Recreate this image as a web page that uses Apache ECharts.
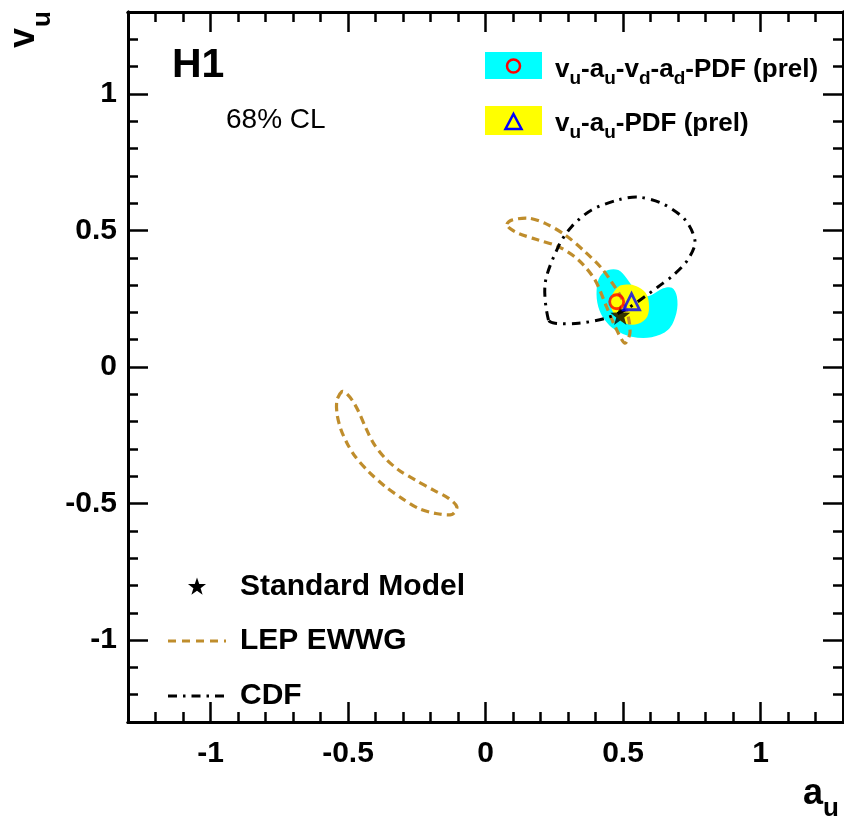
<!DOCTYPE html>
<html>
<head>
<meta charset="utf-8">
<script src="https://cdn.jsdelivr.net/npm/echarts@6/dist/echarts.min.js"></script>
<style>html,body{margin:0;padding:0;background:#fff;}#c{width:844px;height:818px;}</style>
</head>
<body>
<div id="c"></div>
<script>
// ---- data ----
const xMajorTicks = [-1, -0.5, 0, 0.5, 1];
const yMajorTicks = [-1, -0.5, 0, 0.5, 1];

// vu-au-vd-ad-PDF (prel) 68% CL region (cyan)
const cyanRegion = [[0.446,0.355],[0.416,0.331],[0.404,0.282],[0.410,0.221],[0.434,0.172],[0.471,0.136],[0.531,0.111],[0.604,0.109],[0.664,0.136],[0.694,0.197],[0.696,0.258],[0.678,0.290],[0.646,0.288],[0.604,0.264],[0.567,0.258],[0.543,0.282],[0.513,0.325],[0.483,0.355]];
// vu-au-PDF (prel) 68% CL region (yellow)
const yellowRegion = [[0.483,0.294],[0.458,0.258],[0.456,0.221],[0.477,0.182],[0.513,0.158],[0.555,0.158],[0.588,0.184],[0.594,0.233],[0.582,0.272],[0.549,0.296],[0.513,0.302]];
// LEP EWWG contours
const lepUpper = [[0.078,0.523],[0.095,0.538],[0.156,0.545],[0.217,0.526],[0.289,0.484],[0.362,0.422],[0.422,0.362],[0.458,0.312],[0.495,0.252],[0.519,0.184],[0.525,0.123],[0.507,0.087],[0.477,0.136],[0.440,0.221],[0.398,0.319],[0.338,0.392],[0.265,0.441],[0.192,0.465],[0.120,0.489],[0.088,0.508]];
const lepLower = [[-0.522,-0.090],[-0.540,-0.121],[-0.540,-0.170],[-0.527,-0.225],[-0.503,-0.280],[-0.473,-0.329],[-0.425,-0.383],[-0.364,-0.438],[-0.304,-0.481],[-0.243,-0.518],[-0.183,-0.536],[-0.122,-0.540],[-0.104,-0.512],[-0.134,-0.481],[-0.189,-0.451],[-0.255,-0.414],[-0.316,-0.377],[-0.364,-0.335],[-0.407,-0.280],[-0.437,-0.219],[-0.461,-0.164],[-0.485,-0.121],[-0.509,-0.094]];
// CDF contour
const cdfContour = [[0.229,0.172],[0.217,0.307],[0.265,0.441],[0.313,0.514],[0.386,0.575],[0.483,0.612],[0.555,0.622],[0.640,0.600],[0.725,0.540],[0.762,0.459],[0.735,0.392],[0.684,0.337],[0.628,0.294],[0.580,0.258],[0.507,0.209],[0.434,0.178],[0.338,0.160],[0.253,0.160]];
// fit central values and SM point
const fit4Point = [[0.477,0.239]];
const fit2Point = [[0.531,0.239]];
const smPoint = [[0.49,0.19]];

// ---- styles ----
const LEP_COLOR = '#bf8d2c';
const FONT = 'Liberation Sans, Arial, sans-serif';

function contourItem(points, style, smooth) {
  return function (params, api) {
    if (params.dataIndex !== 0) return null;
    return {
      type: 'polygon',
      shape: { points: points.map(p => api.coord(p)), smooth: smooth },
      style: style
    };
  };
}

function makeAxis(dim, pos, major, labels) {
  const ticks = dim === 'x' ? xMajorTicks : yMajorTicks;
  const ax = {
    type: 'value', min: -1.3, max: 1.3, position: pos, gridIndex: 0,
    axisLine: { show: true, onZero: false, lineStyle: { color: '#000', width: 3 } },
    axisTick: { show: true, inside: true, length: major ? 20 : 10, lineStyle: { color: '#000', width: 2.5 } },
    axisLabel: { show: false },
    splitLine: { show: false }
  };
  if (major) {
    ax.axisTick.customValues = ticks;
  } else {
    ax.interval = 0.1;
  }
  if (labels) {
    ax.axisLabel = {
      show: true, customValues: ticks, color: '#000', fontFamily: FONT,
      fontWeight: 'bold', fontSize: 30, margin: dim === 'x' ? 17 : 11
    };
  }
  return ax;
}

function starPoints(cx, cy, R, r) {
  const pts = [];
  for (let i = 0; i < 10; i++) {
    const a = -Math.PI / 2 + i * Math.PI / 5;
    const rad = i % 2 === 0 ? R : r;
    pts.push([cx + rad * Math.cos(a), cy + rad * Math.sin(a)]);
  }
  return pts;
}
const STAR_PATH = 'path://' + starPoints(0, 0, 10, 4).map((p, i) => (i ? 'L' : 'M') + p[0].toFixed(2) + ',' + p[1].toFixed(2)).join(' ') + 'Z';

const chart = echarts.init(document.getElementById('c'), null, { renderer: 'canvas' });

const option = {
  animation: false,
  backgroundColor: '#fff',
  grid: { left: 128, right: 1, top: 12, bottom: 96, containLabel: false },
  xAxis: [
    makeAxis('x', 'bottom', false, false),
    makeAxis('x', 'bottom', true, true),
    makeAxis('x', 'top', false, false),
    makeAxis('x', 'top', true, false)
  ],
  yAxis: [
    makeAxis('y', 'left', false, false),
    makeAxis('y', 'left', true, true),
    makeAxis('y', 'right', false, false),
    makeAxis('y', 'right', true, false)
  ],
  series: [
    { type: 'custom', name: 'cyan', data: cyanRegion, xAxisIndex: 0, yAxisIndex: 0, clip: false,
      renderItem: contourItem(cyanRegion, { fill: '#00ffff', stroke: null }, 0.35) },
    { type: 'custom', name: 'yellow', data: yellowRegion, xAxisIndex: 0, yAxisIndex: 0, clip: false,
      renderItem: contourItem(yellowRegion, { fill: '#ffff00', stroke: null }, 0.35) },
    { type: 'custom', name: 'LEP upper', data: lepUpper, xAxisIndex: 0, yAxisIndex: 0, clip: false,
      renderItem: contourItem(lepUpper, { fill: 'none', stroke: LEP_COLOR, lineWidth: 3.2, lineDash: [8, 5] }, 0.3) },
    { type: 'custom', name: 'LEP lower', data: lepLower, xAxisIndex: 0, yAxisIndex: 0, clip: false,
      renderItem: contourItem(lepLower, { fill: 'none', stroke: LEP_COLOR, lineWidth: 3.2, lineDash: [8, 5] }, 0.3) },
    { type: 'custom', name: 'CDF', data: cdfContour, xAxisIndex: 0, yAxisIndex: 0, clip: false,
      renderItem: contourItem(cdfContour, { fill: 'none', stroke: '#000', lineWidth: 3, lineDash: [9, 6, 2.5, 6] }, 0.3) },
    { type: 'scatter', data: smPoint, symbol: STAR_PATH, symbolSize: 20, xAxisIndex: 0, yAxisIndex: 0,
      itemStyle: { color: '#000' } },
    { type: 'scatter', data: fit4Point, symbol: 'circle', symbolSize: 14, xAxisIndex: 0, yAxisIndex: 0,
      itemStyle: { color: 'rgba(0,0,0,0)', borderColor: '#ff0000', borderWidth: 2.8 } },
    { type: 'scatter', data: fit2Point, symbol: 'triangle', symbolSize: [16, 16], xAxisIndex: 0, yAxisIndex: 0,
      itemStyle: { color: 'rgba(0,0,0,0)', borderColor: '#0000ff', borderWidth: 2.8 } }
  ],
  graphic: [
    // axis titles
    { type: 'text', x: 803, y: 794, z: 100, style: { text: 'a', font: 'bold 36px ' + FONT, fill: '#000', align: 'left', verticalAlign: 'middle' } },
    { type: 'text', x: 823, y: 809, z: 100, style: { text: 'u', font: 'bold 26px ' + FONT, fill: '#000', align: 'left', verticalAlign: 'middle' } },
    { type: 'text', x: 24, y: 38, rotation: Math.PI / 2, z: 100, style: { text: 'v', font: 'bold 36px ' + FONT, fill: '#000', align: 'center', verticalAlign: 'middle' } },
    { type: 'text', x: 43, y: 19, rotation: Math.PI / 2, z: 100, style: { text: 'u', font: 'bold 26px ' + FONT, fill: '#000', align: 'center', verticalAlign: 'middle' } },
    // H1 and CL
    { type: 'text', x: 172, y: 66, z: 100, style: { text: 'H1', font: 'bold 41px ' + FONT, fill: '#000', align: 'left', verticalAlign: 'middle' } },
    { type: 'text', x: 226, y: 120, z: 100, style: { text: '68% CL', font: '28px ' + FONT, fill: '#000', align: 'left', verticalAlign: 'middle' } },
    // top-right legend
    { type: 'rect', z: 100, shape: { x: 485, y: 52, width: 57, height: 27 }, style: { fill: '#00ffff' } },
    { type: 'circle', z: 101, shape: { cx: 513.5, cy: 66, r: 6.5 }, style: { fill: 'none', stroke: '#ff0000', lineWidth: 2.5 } },
    { type: 'rect', z: 100, shape: { x: 485, y: 106, width: 57, height: 29 }, style: { fill: '#ffff00' } },
    { type: 'polygon', z: 101, shape: { points: [[513.5, 114], [521.5, 129], [505.5, 129]] }, style: { fill: 'none', stroke: '#0000ff', lineWidth: 2.5 } },
    { type: 'text', x: 555, y: 56.5, z: 100, style: {
        text: '{m|v}{s|u}{m|-a}{s|u}{m|-v}{s|d}{m|-a}{s|d}{m|-PDF (prel)}',
        align: 'left', verticalAlign: 'top',
        rich: {
          m: { fontFamily: FONT, fontWeight: 'bold', fontSize: 26, lineHeight: 26, verticalAlign: 'top', fill: '#000', color: '#000' },
          s: { fontFamily: FONT, fontWeight: 'bold', fontSize: 19, lineHeight: 44, fill: '#000', color: '#000' }
        } } },
    { type: 'text', x: 555, y: 111, z: 100, style: {
        text: '{m|v}{s|u}{m|-a}{s|u}{m|-PDF (prel)}',
        align: 'left', verticalAlign: 'top',
        rich: {
          m: { fontFamily: FONT, fontWeight: 'bold', fontSize: 26, lineHeight: 26, verticalAlign: 'top', fill: '#000', color: '#000' },
          s: { fontFamily: FONT, fontWeight: 'bold', fontSize: 19, lineHeight: 44, fill: '#000', color: '#000' }
        } } },
    // bottom-left legend
    { type: 'polygon', z: 100, shape: { points: starPoints(197, 587, 9.5, 3.8) }, style: { fill: '#000' } },
    { type: 'text', x: 240, y: 587, z: 100, style: { text: 'Standard Model', font: 'bold 30px ' + FONT, fill: '#000', align: 'left', verticalAlign: 'middle' } },
    { type: 'line', z: 100, shape: { x1: 168, y1: 641, x2: 226, y2: 641 }, style: { stroke: LEP_COLOR, lineWidth: 3.2, lineDash: [8, 6] } },
    { type: 'text', x: 240, y: 641, z: 100, style: { text: 'LEP EWWG', font: 'bold 30px ' + FONT, fill: '#000', align: 'left', verticalAlign: 'middle' } },
    { type: 'line', z: 100, shape: { x1: 168, y1: 696, x2: 226, y2: 696 }, style: { stroke: '#000', lineWidth: 3, lineDash: [9, 6, 2.5, 6] } },
    { type: 'text', x: 240, y: 696, z: 100, style: { text: 'CDF', font: 'bold 30px ' + FONT, fill: '#000', align: 'left', verticalAlign: 'middle' } }
  ]
};
chart.setOption(option);
</script>
</body>
</html>
